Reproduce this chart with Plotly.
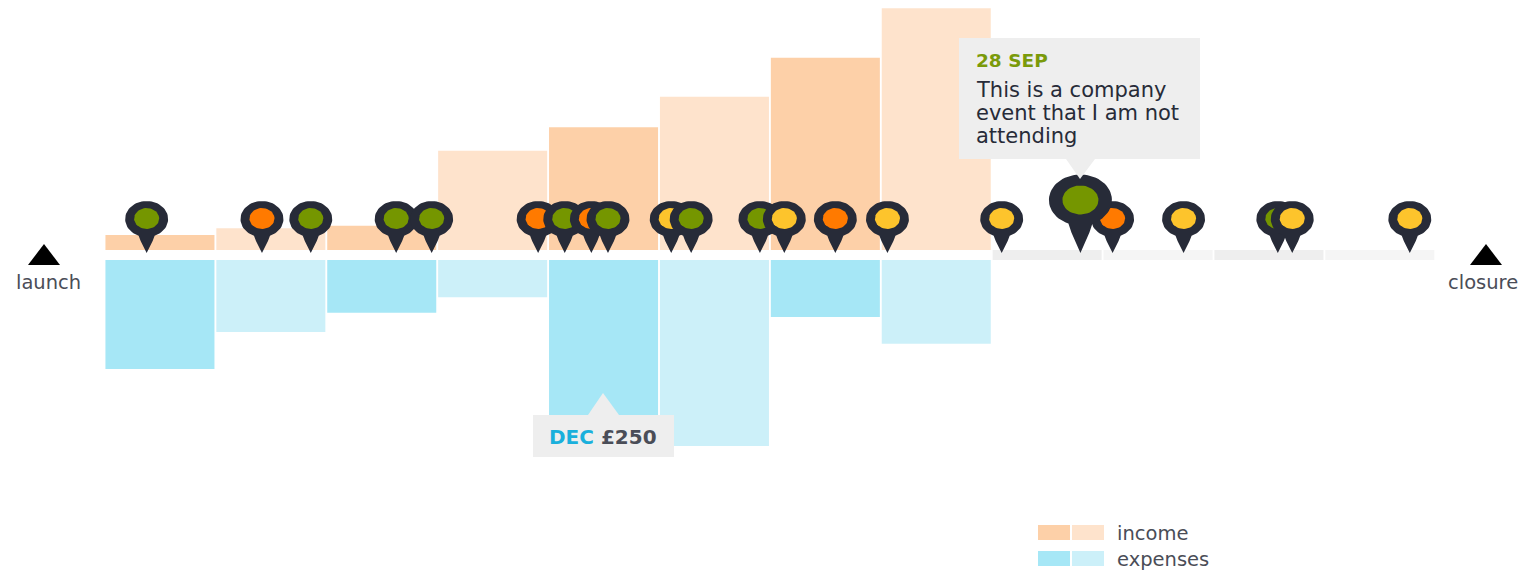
import numpy as np
import plotly.graph_objects as go

# ---- data -----------------------------------------------------------------
periods = ["AUG", "SEP", "OCT", "NOV", "DEC", "JAN", "FEB", "MAR"]
future_periods = ["APR", "MAY", "JUN", "JUL"]
income = [24, 35, 39, 160, 198, 247, 310, 390]
expenses = [176, 116, 85, 60, 250, 300, 92, 135]
future_strip = [1, 1, 1, 1]

# event pins: position on the timeline in months since launch, and event kind
pin_months = [0.38, 1.42, 1.86, 2.63, 2.95, 3.91, 4.15, 4.39, 4.54, 5.11, 5.29,
              5.91, 6.13, 6.59, 7.06, 8.09, 9.09, 9.73, 10.58, 10.71, 11.77, 8.80]
pin_kinds = ["g", "o", "g", "g", "g", "o", "g", "o", "g", "y", "g",
             "g", "y", "o", "y", "y", "o", "y", "g", "y", "y", "g"]
pin_big = [False] * 21 + [True]

labels_tooltip = ["28 SEP", "This is a company", "event that I am not", "attending"]

# ---- styles ---------------------------------------------------------------
W, H = 1525, 571
PITCH = 110.9
X0 = 104.5
FONT = "DejaVu Sans"
TEXT = "#4a4d57"
DARK = "#272b38"
KIND = {"g": "#759600", "o": "#ff7a00", "y": "#fdc42c"}
INC = ["#fdd0a8", "#fee3cc"]
EXP = ["#a6e7f6", "#ccf0f9"]
GREY = ["#eeeeee", "#f5f5f5"]
SCALE = 250 / 155  # pounds per pixel


def alt(cols, n):
    return [cols[i % 2] for i in range(n)]


fig = go.Figure()
x_past = np.arange(len(periods)) + 0.5
x_future = np.arange(len(future_periods)) + len(periods) + 0.5
fig.add_bar(x=x_past, y=income, width=0.983, name="income", hovertext=periods,
            marker=dict(color=alt(INC, len(income)), line_width=0), yaxis="y")
fig.add_bar(x=x_past, y=expenses, width=0.983, name="expenses", hovertext=periods,
            marker=dict(color=alt(EXP, len(expenses)), line_width=0), yaxis="y2")
fig.add_bar(x=x_future, y=future_strip, width=0.983, name="upcoming", hovertext=future_periods,
            marker=dict(color=alt(GREY, 4), line_width=0), yaxis="y3")


def pin_outline(m, big):
    """Pin silhouette around month m; offsets are pixels, converted to axis units."""
    rx, ry, cy = (31.5, 25.5, 200) if big else (21.5, 18, 219)
    tail = 12 if big else 8
    neck = 0.75
    tip = 253
    a0 = np.arcsin(tail / rx)
    ang = np.linspace(a0, 2 * np.pi - a0, 60)
    px = rx * np.sin(ang)
    py = cy + ry * np.cos(ang)
    py_neck = cy + ry + (tip - cy - ry) * 0.25
    px = np.concatenate([px, [-tail * neck, 0, tail * neck]])
    py = np.concatenate([py, [py_neck, tip, py_neck]])
    return m + px / PITCH, py


def pin_core(m, big):
    rx, ry, cy = (18, 14.5, 200) if big else (12.5, 10.5, 218.5)
    ang = np.linspace(0, 2 * np.pi, 50)
    return m + rx * np.cos(ang) / PITCH, cy + ry * np.sin(ang)


for m, k, b in zip(pin_months, pin_kinds, pin_big):
    ox, oy = pin_outline(m, b)
    fig.add_scatter(x=ox, y=oy, mode="lines", line=dict(width=0, color=DARK), fill="toself",
                    fillcolor=DARK, yaxis="y4", hoverinfo="skip", showlegend=False)
    cx, cy_ = pin_core(m, b)
    fig.add_scatter(x=cx, y=cy_, mode="lines", line=dict(width=0, color=KIND[k]), fill="toself",
                    fillcolor=KIND[k], yaxis="y4", hoverinfo="skip", showlegend=False)


def pxx(v):
    return v / W


def pxy(v):
    return 1 - v / H


shapes = []


def rect(x0, y0, x1, y1, color):
    shapes.append(dict(type="rect", xref="paper", yref="paper", x0=pxx(x0), x1=pxx(x1),
                       y0=pxy(y0), y1=pxy(y1), fillcolor=color, line_width=0))


def tri(pts, color):
    path = "M " + " L ".join(f"{pxx(a):.5f},{pxy(b):.5f}" for a, b in pts) + " Z"
    shapes.append(dict(type="path", xref="paper", yref="paper", path=path,
                       fillcolor=color, line_width=0))


# tooltips
rect(959, 38, 1200, 159, "#eeeeee")
tri([(1066, 159), (1095, 159), (1080, 179)], "#eeeeee")
rect(533, 415, 674, 457, "#eeeeee")
tri([(588, 415), (619, 415), (603, 393)], "#eeeeee")
# launch / closure markers
tri([(28, 265), (60, 265), (44, 244)], "#000000")
tri([(1470, 265), (1502, 265), (1486, 244)], "#000000")
# legend swatches
rect(1038, 525, 1070, 540, INC[0])
rect(1072, 525, 1104, 540, INC[1])
rect(1038, 551, 1070, 566, EXP[0])
rect(1072, 551, 1104, 566, EXP[1])

ann = []


def text(x, y, s, size, color=TEXT, anchor="left"):
    ann.append(dict(x=pxx(x), y=pxy(y), xref="paper", yref="paper", text=s, showarrow=False,
                    xanchor=anchor, yanchor="middle", align=anchor, borderpad=0, borderwidth=0,
                    font=dict(family=FONT, size=size, color=color)))


text(48, 282, "launch", 19.5, anchor="center")
text(1483, 282, "closure", 19.5, anchor="center")
text(1117, 533, "income", 19.5)
text(1117, 559, "expenses", 19.5)
text(976, 61, f"<b>{labels_tooltip[0]}</b>", 18.5, "#7a9a0a")
text(976, 90, labels_tooltip[1], 21, DARK)
text(976, 113, labels_tooltip[2], 21, DARK)
text(976, 136, labels_tooltip[3], 21, DARK)
text(549, 437, f"<b><span style='color:#1ab0dc'>{periods[4]}</span> £{expenses[4]}</b>", 20, TEXT)

hidden = dict(visible=False, fixedrange=True)
fig.update_layout(
    width=W, height=H, margin=dict(l=0, r=0, t=0, b=0, pad=0), autosize=False,
    paper_bgcolor="white", plot_bgcolor="rgba(0,0,0,0)", showlegend=False,
    barmode="overlay", shapes=shapes, annotations=ann,
    xaxis=dict(range=[-X0 / PITCH, (W - X0) / PITCH], **hidden),
    yaxis=dict(domain=[1 - 250 / H, 1], range=[0, 250 * SCALE], **hidden),
    yaxis2=dict(domain=[0, 1 - 260 / H], range=[(H - 260) * SCALE, 0], anchor="x", **hidden),
    yaxis3=dict(domain=[1 - 260 / H, 1 - 250 / H], range=[0, 1], anchor="x", **hidden),
    yaxis4=dict(domain=[0, 1], range=[H, 0], anchor="x", **hidden),
)
fig.write_html("out.html", config=dict(displayModeBar=False),
               post_script="document.body.style.margin='0';document.documentElement.style.overflow='hidden';")
